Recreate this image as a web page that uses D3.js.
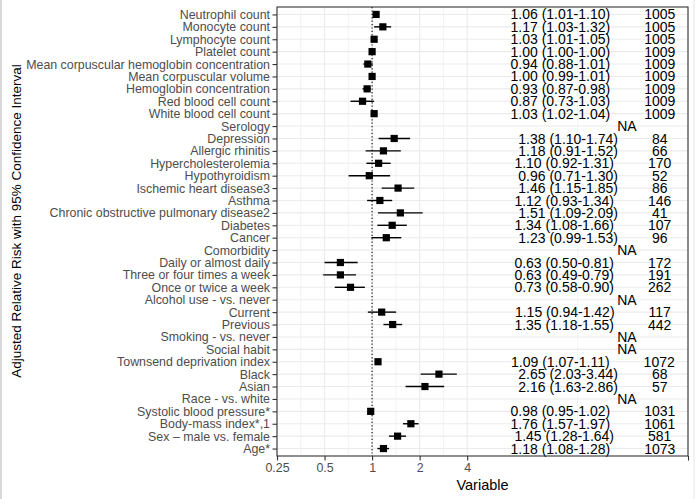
<!DOCTYPE html>
<html>
<head>
<meta charset="utf-8">
<script src="https://cdn.jsdelivr.net/npm/d3@7"></script>
<style>
  body { margin: 0; background: #fff; }
  svg { font-family: "Liberation Sans", Arial, sans-serif; }
</style>
</head>
<body>
<script>
// rows, top to bottom
var variables = [
  "Neutrophil count", "Monocyte count", "Lymphocyte count", "Platelet count",
  "Mean corpuscular hemoglobin concentration", "Mean corpuscular volume",
  "Hemoglobin concentration", "Red blood cell count", "White blood cell count",
  "Serology", "Depression", "Allergic rhinitis", "Hypercholesterolemia",
  "Hypothyroidism", "Ischemic heart disease3", "Asthma",
  "Chronic obstructive pulmonary disease2", "Diabetes", "Cancer", "Comorbidity",
  "Daily or almost daily", "Three or four times a week", "Once or twice a week",
  "Alcohol use - vs. never", "Current", "Previous", "Smoking - vs. never",
  "Social habit", "Townsend deprivation index", "Black", "Asian",
  "Race - vs. white", "Systolic blood pressure*", "Body-mass index*,1",
  "Sex \u2013 male vs. female", "Age*"
];
var estimates = [1.06, 1.17, 1.03, 1.00, 0.94, 1.00, 0.93, 0.87, 1.03, null,
  1.38, 1.18, 1.10, 0.96, 1.46, 1.12, 1.51, 1.34, 1.23, null,
  0.63, 0.63, 0.73, null, 1.15, 1.35, null, null, 1.09, 2.65, 2.16, null,
  0.98, 1.76, 1.45, 1.18];
var lower = [1.01, 1.03, 1.01, 1.00, 0.88, 0.99, 0.87, 0.73, 1.02, null,
  1.10, 0.91, 0.92, 0.71, 1.15, 0.93, 1.09, 1.08, 0.99, null,
  0.50, 0.49, 0.58, null, 0.94, 1.18, null, null, 1.07, 2.03, 1.63, null,
  0.95, 1.57, 1.28, 1.08];
var upper = [1.10, 1.32, 1.05, 1.00, 1.01, 1.01, 0.98, 1.03, 1.04, null,
  1.74, 1.52, 1.31, 1.30, 1.85, 1.34, 2.09, 1.66, 1.53, null,
  0.81, 0.79, 0.90, null, 1.42, 1.55, null, null, 1.11, 3.44, 2.86, null,
  1.02, 1.97, 1.64, 1.28];
var counts = [1005, 1005, 1005, 1009, 1009, 1009, 1009, 1009, 1009, null,
  84, 66, 170, 52, 86, 146, 41, 107, 96, null,
  172, 191, 262, null, 117, 442, null, null, 1072, 68, 57, null,
  1031, 1061, 581, 1073];
var xTicks = [0.25, 0.5, 1, 2, 4];
var xMax = 100;

var width = 696, height = 499;
var pLeft = 277, pRight = 688, pTop = 7, pBottom = 456;
var f2 = d3.format(".2f");

var rows = variables.map(function(v, i) {
  return { name: v, est: estimates[i], lo: lower[i], hi: upper[i], n: counts[i] };
});

var svg = d3.select("body").append("svg")
  .attr("width", width)
  .attr("height", height);

// faint frame of the original image
svg.append("line").attr("x1", 1).attr("x2", 1).attr("y1", 0).attr("y2", height)
  .attr("stroke", "#d9d9d9").attr("stroke-width", 2);
svg.append("line").attr("x1", 694).attr("x2", 694).attr("y1", 0).attr("y2", height)
  .attr("stroke", "#e6e6e6").attr("stroke-width", 1);

var x = d3.scaleLog().domain([0.25, xMax]).range([pLeft, pRight]);
var y = d3.scalePoint().domain(variables).range([pTop, pBottom]).padding(0.6);

var majors = xTicks.concat([xMax]);
var minors = [];
for (var i = 0; i < majors.length - 1; i++) minors.push(Math.sqrt(majors[i] * majors[i + 1]));

var grid = svg.append("g");
grid.selectAll(".minor").data(minors).enter().append("line")
  .attr("x1", x).attr("x2", x).attr("y1", pTop).attr("y2", pBottom)
  .attr("stroke", "#ebebeb").attr("stroke-width", 0.6);
grid.selectAll(".major").data(majors).enter().append("line")
  .attr("x1", x).attr("x2", x).attr("y1", pTop).attr("y2", pBottom)
  .attr("stroke", "#ebebeb").attr("stroke-width", 1.1);
grid.selectAll(".hmajor").data(variables).enter().append("line")
  .attr("x1", pLeft).attr("x2", pRight)
  .attr("y1", function(d) { return y(d); }).attr("y2", function(d) { return y(d); })
  .attr("stroke", "#ebebeb").attr("stroke-width", 1.1);

// reference line at 1
svg.append("line")
  .attr("x1", x(1)).attr("x2", x(1)).attr("y1", pTop).attr("y2", pBottom)
  .attr("stroke", "#000").attr("stroke-width", 1.1)
  .attr("stroke-dasharray", "1.2,2.2");

var shown = rows.filter(function(d) { return d.est !== null; });

svg.append("g").selectAll("line").data(shown).enter().append("line")
  .attr("x1", function(d) { return x(d.lo); })
  .attr("x2", function(d) { return x(d.hi); })
  .attr("y1", function(d) { return y(d.name); })
  .attr("y2", function(d) { return y(d.name); })
  .attr("stroke", "#000").attr("stroke-width", 1.4);

svg.append("g").selectAll("rect").data(shown).enter().append("rect")
  .attr("x", function(d) { return x(d.est) - 3.6; })
  .attr("y", function(d) { return y(d.name) - 3.6; })
  .attr("width", 7.2).attr("height", 7.2)
  .attr("fill", "#000");

// estimate (CI) and n, one centred chunk per row
var labels = svg.append("g").selectAll("text").data(rows).enter().append("text")
  .attr("x", x(25))
  .attr("y", function(d) { return y(d.name); })
  .attr("dy", "0.36em")
  .attr("text-anchor", "middle")
  .attr("font-size", 14)
  .attr("fill", "#000");
labels.append("tspan")
  .text(function(d) { return d.est === null ? "" : f2(d.est) + " (" + f2(d.lo) + "-" + f2(d.hi) + ")"; });
labels.append("tspan")
  .attr("dx", 34)
  .text(function(d) { return d.n === null ? "NA" : d.n; });

// panel border
svg.append("rect")
  .attr("x", pLeft).attr("y", pTop)
  .attr("width", pRight - pLeft).attr("height", pBottom - pTop)
  .attr("fill", "none").attr("stroke", "#333").attr("stroke-width", 1.1);

var yAxis = svg.append("g")
  .attr("transform", "translate(" + pLeft + ",0)")
  .call(d3.axisLeft(y).tickSize(4.5).tickPadding(2.5));
var xAxis = svg.append("g")
  .attr("transform", "translate(0," + pBottom + ")")
  .call(d3.axisBottom(x).tickValues(majors).tickSize(4.5).tickPadding(3)
    .tickFormat(function(d) { return d === xMax ? "" : d; }));

[yAxis, xAxis].forEach(function(a) {
  a.select(".domain").remove();
  a.selectAll(".tick line").attr("stroke", "#333").attr("stroke-width", 1.1);
  a.selectAll(".tick text").attr("fill", "#4d4d4d").attr("font-size", 12.4)
    .attr("font-family", "Liberation Sans, Arial, sans-serif");
});

svg.append("text")
  .attr("x", (pLeft + pRight) / 2).attr("y", 490)
  .attr("text-anchor", "middle").attr("font-size", 14.5).attr("fill", "#000")
  .text("Variable");

svg.append("text")
  .attr("transform", "translate(21,221) rotate(-90)")
  .attr("text-anchor", "middle").attr("font-size", 13.5).attr("fill", "#000")
  .text("Adjusted Relative Risk with 95% Confidence Interval");
</script>
</body>
</html>
